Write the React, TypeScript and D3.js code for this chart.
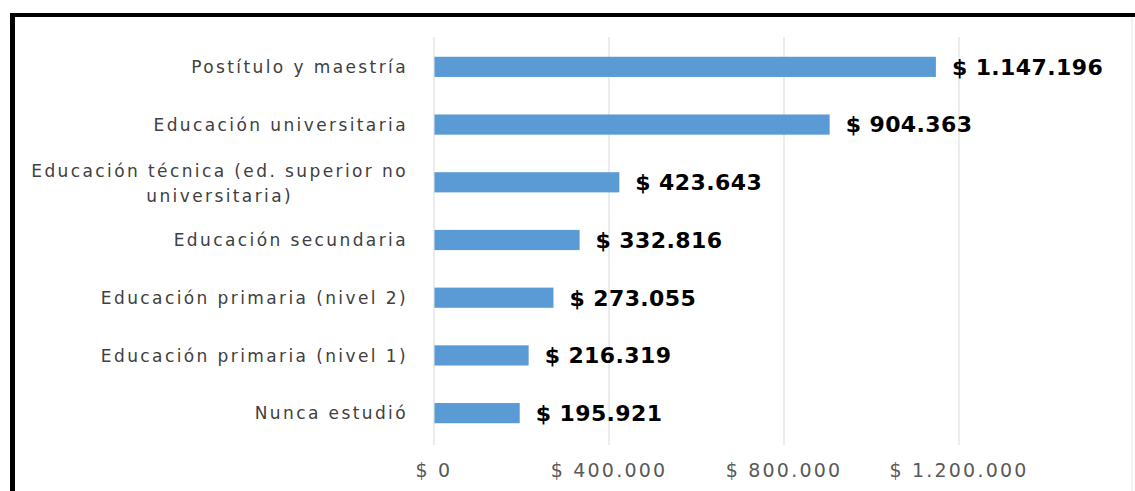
import React, { useEffect, useRef } from "react";
import * as d3 from "d3";

const categories: string[] = [
  "Postítulo y maestría",
  "Educación universitaria",
  "Educación técnica (ed. superior no universitaria)",
  "Educación secundaria",
  "Educación primaria (nivel 2)",
  "Educación primaria (nivel 1)",
  "Nunca estudió",
];
const values: number[] = [1147196, 904363, 423643, 332816, 273055, 216319, 195921];
const tickValues: number[] = [0, 400000, 800000, 1200000];
const tickLabels: string[] = ["$ 0", "$ 400.000", "$ 800.000", "$ 1.200.000"];

const W = 1135;
const H = 491;

function fmt(v: number): string {
  return "$ " + String(v).replace(/\B(?=(\d{3})+(?!\d))/g, ".");
}

function wrapLabel(s: string, maxChars: number): string[] {
  if (s.length <= maxChars) return [s];
  const words = s.split(" ");
  const lines: string[] = [];
  let cur = "";
  for (const w of words) {
    const t = cur ? cur + " " + w : w;
    if (t.length > maxChars && cur) {
      lines.push(cur);
      cur = w;
    } else cur = t;
  }
  if (cur) lines.push(cur);
  return lines;
}

export default function App() {
  const ref = useRef<SVGSVGElement | null>(null);

  useEffect(() => {
    const svg = d3.select(ref.current);
    svg.selectAll("*").remove();

    // frame
    svg.append("rect").attr("x", 0).attr("y", 0).attr("width", W).attr("height", H).attr("fill", "#fff");
    svg.append("line").attr("x1", 1132).attr("x2", 1132).attr("y1", 15).attr("y2", H).attr("stroke", "#e6e6e6").attr("stroke-width", 1);
    svg.append("rect").attr("x", 10).attr("y", 13).attr("width", W - 10).attr("height", 4).attr("fill", "#000");
    svg.append("rect").attr("x", 10).attr("y", 13).attr("width", 5).attr("height", H - 13).attr("fill", "#000");

    const x = d3.scaleLinear().domain([0, 1400000]).range([434, 1046.5]);
    const y = d3
      .scaleBand<string>()
      .domain(categories)
      .range([38, 442])
      .paddingInner(0.65)
      .paddingOuter(0.325);

    // gridlines
    svg
      .append("g")
      .selectAll("line")
      .data(tickValues)
      .join("line")
      .attr("x1", (d) => x(d))
      .attr("x2", (d) => x(d))
      .attr("y1", 37)
      .attr("y2", 445)
      .attr("stroke", "#d9d9d9")
      .attr("stroke-width", 1);

    // bars
    svg
      .append("g")
      .selectAll("rect")
      .data(categories)
      .join("rect")
      .attr("x", x(0) + 0.5)
      .attr("y", (d) => y(d)!)
      .attr("width", (d, i) => x(values[i]) - x(0) - 0.5)
      .attr("height", y.bandwidth())
      .attr("fill", "#5b9bd5");

    // value labels
    svg
      .append("g")
      .selectAll("text")
      .data(categories)
      .join("text")
      .attr("x", (d, i) => x(values[i]) + 16)
      .attr("y", (d) => y(d)! + y.bandwidth() / 2)
      .attr("dy", "0.36em")
      .attr("font-family", "'DejaVu Sans', Verdana, sans-serif")
      .attr("font-weight", "bold")
      .attr("font-size", 22)
      .attr("letter-spacing", 0.4)
      .attr("fill", "#000")
      .text((d, i) => fmt(values[i]));

    // category labels
    const labelRight = 408;
    const lineH = 25;
    const cg = svg.append("g");
    categories.forEach((c) => {
      const lines = wrapLabel(c, 34);
      const cy = y(c)! + y.bandwidth() / 2;
      const t = cg
        .append("text")
        .attr("font-family", "'DejaVu Sans', sans-serif")
        .attr("font-size", 17)
        .attr("letter-spacing", 2.4)
        .attr("fill", "#404040");
      if (lines.length === 1) {
        t.attr("x", labelRight).attr("y", cy).attr("dy", "0.36em").attr("text-anchor", "end").text(lines[0]);
      } else {
        const top = cy - ((lines.length - 1) * lineH) / 2 + 1;
        const first = t
          .append("tspan")
          .attr("x", labelRight)
          .attr("y", top)
          .attr("dy", "0.36em")
          .attr("text-anchor", "end")
          .text(lines[0]);
        const w = (first.node() as SVGTextContentElement).getComputedTextLength();
        lines.slice(1).forEach((ln, k) => {
          t.append("tspan")
            .attr("x", labelRight - w / 2)
            .attr("y", top + (k + 1) * lineH)
            .attr("dy", "0.36em")
            .attr("text-anchor", "middle")
            .text(ln);
        });
      }
    });

    // x tick labels
    svg
      .append("g")
      .selectAll("text")
      .data(tickValues)
      .join("text")
      .attr("x", (d) => x(d))
      .attr("y", 470)
      .attr("dy", "0.36em")
      .attr("text-anchor", "middle")
      .attr("font-family", "'DejaVu Sans', sans-serif")
      .attr("font-size", 19)
      .attr("letter-spacing", 2.2)
      .attr("fill", "#595959")
      .text((d, i) => tickLabels[i]);
  }, []);

  return (
    <svg
      ref={ref}
      width={W}
      height={H}
      style={{ position: "absolute", left: 0, top: 0, display: "block" }}
    />
  );
}
